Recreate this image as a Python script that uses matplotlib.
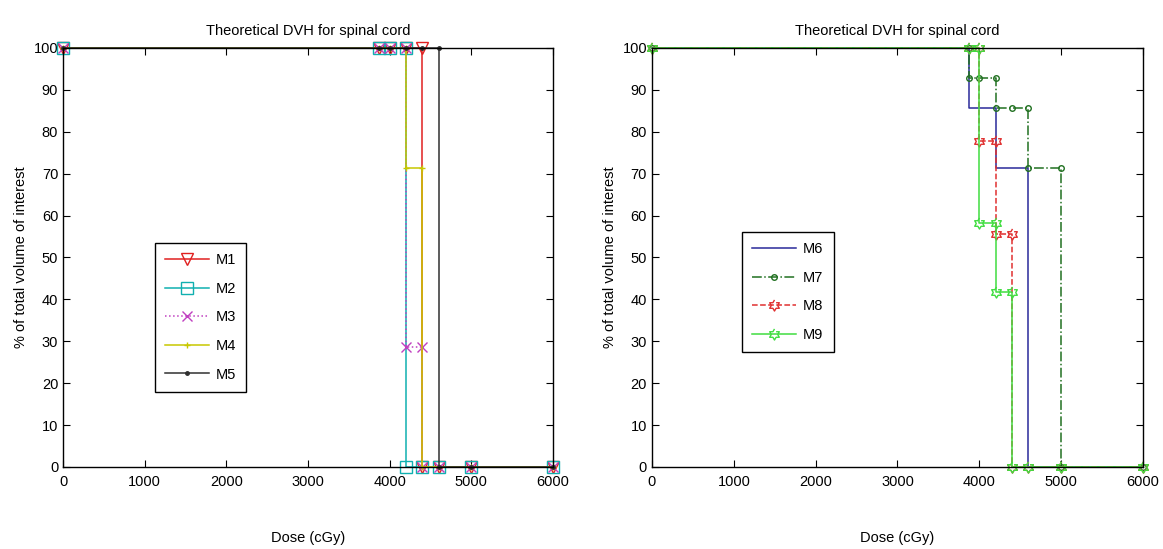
import numpy as np
import matplotlib.pyplot as plt
from matplotlib.path import Path

plt.rcParams['font.family'] = ['Liberation Sans Narrow', 'Liberation Sans', 'DejaVu Sans']
plt.rcParams['font.size'] = 10.5

# dose bins (cGy) and cumulative volume (%) after each bin
doses = [0, 3870, 4000, 4200, 4400, 4600, 5000, 6000]
m1 = [100, 100, 100, 100, 0, 0, 0, 0]
m2 = [100, 100, 100, 0, 0, 0, 0, 0]
m3 = [100, 100, 100, 28.6, 0, 0, 0, 0]
m4 = [100, 100, 100, 71.4, 0, 0, 0, 0]
m5 = [100, 100, 100, 100, 100, 0, 0, 0]
m6 = [100, 85.7, 85.7, 71.4, 71.4, 0, 0, 0]
m7 = [100, 92.9, 92.9, 85.7, 85.7, 71.4, 0, 0]
m8 = [100, 100, 77.8, 55.6, 0, 0, 0, 0]
m9 = [100, 100, 58.3, 41.7, 0, 0, 0, 0]

xticks = [0, 1000, 2000, 3000, 4000, 5000, 6000]
yticks = list(range(0, 101, 10))


def stair(d, v):
    xs, ys = [d[0]], [v[0]]
    for i in range(1, len(d)):
        if v[i] != v[i - 1]:
            xs.append(d[i])
            ys.append(v[i - 1])
        xs.append(d[i])
        ys.append(v[i])
    return xs, ys


# matlab style hexagram marker
ang = np.pi / 2 + np.arange(12) * np.pi / 6
rad = np.where(np.arange(12) % 2 == 0, 1.0, 0.577)
hexagram = Path(np.column_stack([rad * np.cos(ang), rad * np.sin(ang)]))

left_series = [
    ('M1', m1, dict(color='#e02020', ls='-', marker='v', ms=8, mfc='none')),
    ('M2', m2, dict(color='#10b0b0', ls='-', marker='s', ms=8, mfc='none')),
    ('M3', m3, dict(color='#c040c0', ls=':', marker='x', ms=7)),
    ('M4', m4, dict(color='#c8c800', ls='-', marker='+', ms=5)),
    ('M5', m5, dict(color='#303030', ls='-', marker='.', ms=5)),
]
right_series = [
    ('M6', m6, dict(color='#2a2a9a', ls='-')),
    ('M7', m7, dict(color='#207020', ls='-.', marker='o', ms=4, mfc='none')),
    ('M8', m8, dict(color='#e03030', ls='--', marker=hexagram, ms=8, mfc='none')),
    ('M9', m9, dict(color='#40dd40', ls='-', marker=hexagram, ms=8, mfc='none')),
]

fig = plt.figure(figsize=(11.63, 5.49), dpi=100)
ax1 = fig.add_axes([0.0542, 0.1494, 0.4213, 0.7632])
ax2 = fig.add_axes([0.5606, 0.1494, 0.4222, 0.7632])

for ax, series, anchor, spacing in [(ax1, left_series, (0.172, 0.552), 1.0),
                                    (ax2, right_series, (0.168, 0.578), 1.0)]:
    for name, vols, style in series:
        xs, ys = stair(doses, vols)
        ax.plot(xs, ys, lw=1.1, label=name, clip_on=False, **style)
    ax.set_xlim(0, 6000)
    ax.set_ylim(0, 100)
    ax.set_xticks(xticks)
    ax.set_yticks(yticks)
    ax.tick_params(direction='in', top=True, right=True, length=5, labelsize=10.5)
    ax.tick_params(axis='x', pad=6)
    for sp in ax.spines.values():
        sp.set_linewidth(1.0)
    ax.set_title('Theoretical DVH for spinal cord', fontsize=10.5, pad=9)
    ax.set_xlabel('Dose (cGy)', fontsize=10.5, labelpad=30)
    ax.set_ylabel('% of total volume of interest', fontsize=10.5, labelpad=4)
    leg = ax.legend(loc='upper left', bbox_to_anchor=anchor, fancybox=False,
                    edgecolor='black', framealpha=1, handlelength=3.0,
                    handletextpad=0.5, labelspacing=spacing, borderpad=0.7,
                    fontsize=10.5)
    leg.get_frame().set_linewidth(1.0)

fig.savefig('out.png', dpi=100)
